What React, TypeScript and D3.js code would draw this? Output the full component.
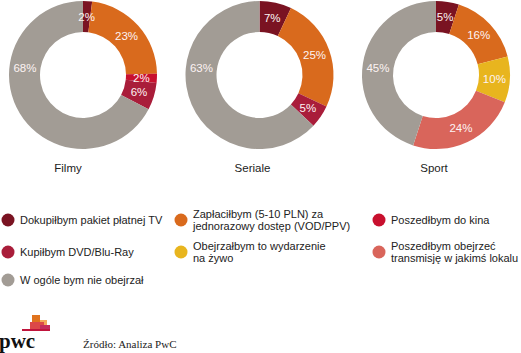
import React from "react";
import * as d3 from "d3";

// chart titles and values (order: maroon, orange, red, crimson, yellow, salmon, gray)
const charts = ["Filmy", "Seriale", "Sport"];
const filmyValues = [2, 23, 2, 6, 0, 0, 68];
const serialeValues = [7, 25, 0, 5, 0, 0, 63];
const sportValues = [5, 16, 0, 0, 10, 24, 45];
const allValues = [filmyValues, serialeValues, sportValues];

const seriesKeys = ["pakiet", "vod", "kino", "dvd", "zywo", "lokal", "nie"];
const seriesColors = ["#7a1322", "#d96a1d", "#c8102e", "#a91d3a", "#e8b51e", "#d9655b", "#a29c95"];

// legend entries, row by row
const legendLabels = [
  ["Dokupiłbym pakiet płatnej TV"],
  ["Zapłaciłbym (5-10 PLN) za", "jednorazowy dostęp (VOD/PPV)"],
  ["Poszedłbym do kina"],
  ["Kupiłbym DVD/Blu-Ray"],
  ["Obejrzałbym to wydarzenie", "na żywo"],
  ["Poszedłbym obejrzeć", "transmisję w jakimś lokalu"],
  ["W ogóle bym nie obejrzał"],
];
const legendKeys = ["pakiet", "vod", "kino", "dvd", "zywo", "lokal", "nie"];

const W = 521;
const H = 353;
const FONT = "'Liberation Sans', Arial, Helvetica, sans-serif";
// titles in the original sit a little left of their donut's centre
const titleShift = [-15, -7, -2];

const App = () => {
  const color = d3.scaleOrdinal<string, string>().domain(seriesKeys).range(seriesColors);
  const cx = d3.scalePoint<string>().domain(charts).range([83, 436]);
  const outerR = 74;
  const innerR = 43;

  const pie = d3
    .pie<number>()
    .sort(null)
    .value((d) => d);
  const arc = d3.arc<d3.PieArcDatum<number>>().innerRadius(innerR).outerRadius(outerR);
  const labelR = (innerR + outerR) / 2;

  const colX = d3.scaleOrdinal<number, number>().domain([0, 1, 2]).range([8, 181, 379]);
  const rowY = d3.scaleOrdinal<number, number>().domain([0, 1, 2]).range([220, 252, 280]);

  return (
    <svg
      width={W}
      height={H}
      style={{ position: "absolute", left: 0, top: 0, background: "#fff" }}
      fontFamily={FONT}
    >
      {charts.map((name, ci) => {
        const arcs = pie(allValues[ci]);
        const x0 = cx(name) as number;
        return (
          <g key={name} transform={`translate(${x0},75)`}>
            {arcs.map((a, i) =>
              a.value > 0 ? (
                <path key={i} d={arc(a) as string} fill={color(seriesKeys[i])} />
              ) : null
            )}
            {arcs.map((a, i) => {
              if (a.value <= 0) return null;
              let ang = (a.startAngle + a.endAngle) / 2;
              // the "nie" label sits just below the 9 o'clock position
              if (seriesKeys[i] === "nie") ang = (277 * Math.PI) / 180;
              const lx = Math.sin(ang) * labelR;
              const ly = -Math.cos(ang) * labelR;
              return (
                <text
                  key={"l" + i}
                  x={lx}
                  y={ly + 4}
                  textAnchor="middle"
                  fontSize={11.5}
                  fill="#fdf3f3"
                >
                  {a.value + "%"}
                </text>
              );
            })}
            <text x={titleShift[ci]} y={97} textAnchor="middle" fontSize={11.5} fill="#222">
              {name}
            </text>
          </g>
        );
      })}

      {legendLabels.map((lines, i) => {
        const col = i === 6 ? 0 : i % 3;
        const row = Math.floor(i / 3);
        const x = colX(col);
        const y = rowY(row);
        return (
          <g key={legendKeys[i]}>
            <circle cx={x} cy={y} r={6.5} fill={color(legendKeys[i])} />
            {lines.map((t, li) => (
              <text
                key={li}
                x={x + 12}
                y={lines.length === 1 ? y + 4 : y - 2 + li * 12}
                fontSize={11}
                fill="#222"
              >
                {t}
              </text>
            ))}
          </g>
        );
      })}

      {/* pwc logo */}
      <g>
        <rect x={32} y={315} width={8} height={8} fill="#e0731e" />
        <rect x={40} y={320} width={7} height={7} fill="#f3a85a" />
        <rect x={30} y={322} width={14} height={8} fill="#dc4848" />
        <rect x={40} y={325} width={10} height={5} fill="#c42a5c" />
        <rect x={22} y={329} width={28} height={2} fill="#c0143c" />
        <text
          x={-1}
          y={348}
          fontFamily="'Liberation Serif', 'DejaVu Serif', serif"
          fontWeight="bold"
          fontSize={21}
          fill="#111"
        >
          pwc
        </text>
      </g>
      <text
        x={83}
        y={348}
        fontFamily="'Liberation Serif', 'DejaVu Serif', serif"
        fontSize={11}
        fill="#222"
      >
        Źródło: Analiza PwC
      </text>
    </svg>
  );
};

export default App;
